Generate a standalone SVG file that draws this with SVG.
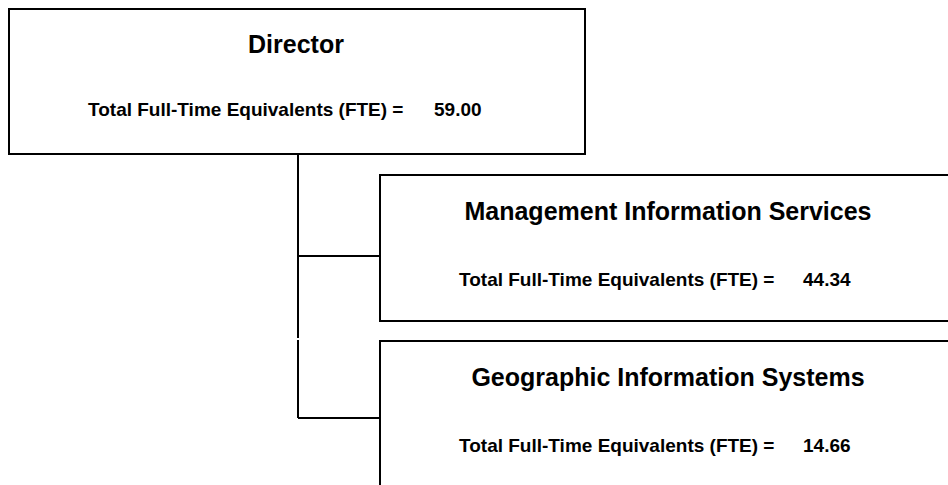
<svg xmlns="http://www.w3.org/2000/svg" width="948" height="485" viewBox="0 0 948 485">
<style>
.box{fill:#fff;stroke:#000;stroke-width:2}
.ln{fill:none;stroke:#000;stroke-width:2}
.t{font-family:"Liberation Sans",Arial,sans-serif;font-weight:bold;fill:#000}
.title{font-size:25px;text-anchor:middle}
.fte{font-size:19px}
</style>
<rect width="948" height="485" fill="#fff"/>
<g id="connectors">
<path class="ln" d="M298 155V338M298 340V418M298 256H380M298 418H380"/>
</g>
<g id="director">
<rect class="box" x="9" y="9" width="576" height="145"/>
<text class="t title" x="296" y="53">Director</text>
<text class="t fte" x="88" y="116">Total Full-Time Equivalents (FTE) =</text>
<text class="t fte" x="434" y="116">59.00</text>
</g>
<g id="mis">
<rect class="box" x="380" y="175" width="600" height="146"/>
<text class="t title" x="668" y="220">Management Information Services</text>
<text class="t fte" x="459" y="286">Total Full-Time Equivalents (FTE) =</text>
<text class="t fte" x="803" y="286">44.34</text>
</g>
<g id="gis">
<rect class="box" x="380" y="341" width="600" height="200"/>
<text class="t title" x="668" y="386">Geographic Information Systems</text>
<text class="t fte" x="459" y="452">Total Full-Time Equivalents (FTE) =</text>
<text class="t fte" x="803" y="452">14.66</text>
</g>
</svg>
